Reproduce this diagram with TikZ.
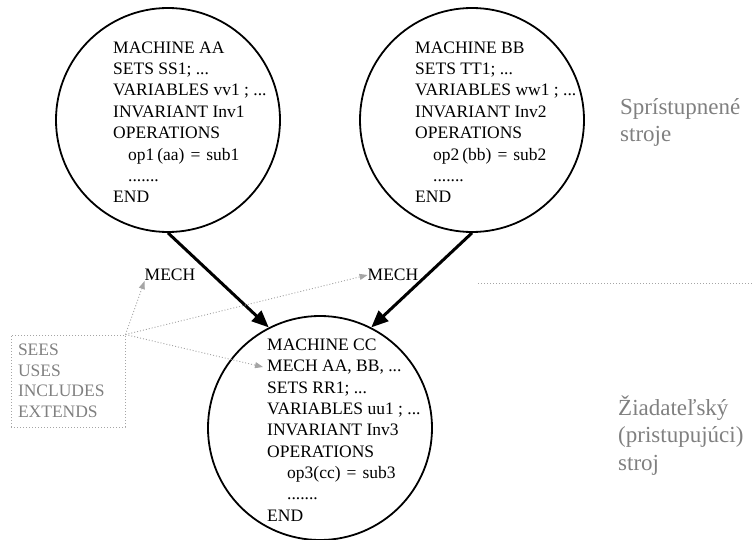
\documentclass[tikz,border=0pt]{standalone}
\usepackage{fontspec}
\setmainfont{Liberation Serif}
\usetikzlibrary{arrows.meta}
\definecolor{txtgray}{RGB}{128,128,128}
\definecolor{dotgray}{RGB}{165,165,165}
\newcommand{\opeq}{\hspace{6pt}=\hspace{6pt}}
\begin{document}
\begin{tikzpicture}[x=1pt,y=-1pt,
  machine/.style={circle, draw, line width=1.8pt, minimum size=224pt, inner sep=0pt},
  code/.style={anchor=base west, inner sep=0pt, align=left, font=\fontsize{17.5}{21.4}\selectfont},
  lbl/.style={inner sep=0pt, font=\fontsize{17.5}{21}\selectfont},
  side/.style={anchor=base west, inner sep=0pt, align=left, text=txtgray, font=\fontsize{23}{27.5}\selectfont},
  mecharrow/.style={line width=3pt, -{Triangle[length=17pt,width=14pt]}},
  dotline/.style={dotgray, line width=0.9pt, dash pattern=on 1pt off 2pt},
  hint/.style={dotline, -{Triangle[length=8pt,width=6pt]}},
  graybox/.style={dotline, draw, text=txtgray, inner sep=0pt, align=left,
    font=\fontsize{17.5}{20.5}\selectfont}
]
\useasboundingbox (0,0) rectangle (754,540);

% machines
\node[machine] (AA) at (168,120) {};
\node[machine] (BB) at (472,120) {};
\node[machine] (CC) at (320,428) {};

% (base anchor = baseline of the last line)
\node[code] (tAA) at (113,202.8) {MACHINE AA\\SETS SS1; ...\\VARIABLES vv1 ; ...\\INVARIANT Inv1\\OPERATIONS\\\hspace*{15pt}op1\,(aa)\opeq sub1\\\hspace*{15pt}.......\\END};
\node[code] (tBB) at (415,202.8) {MACHINE BB\\SETS TT1; ...\\VARIABLES ww1 ; ...\\INVARIANT Inv2\\OPERATIONS\\\hspace*{18pt}op2\,(bb)\opeq sub2\\\hspace*{18pt}.......\\END};
\node[code, font=\fontsize{17.5}{21.3}\selectfont] (tCC) at (267,521) {MACHINE CC\\MECH AA, BB, ...\\SETS RR1; ...\\VARIABLES uu1 ; ...\\INVARIANT Inv3\\OPERATIONS\\\hspace*{20pt}op3(cc)\opeq sub3\\\hspace*{20pt}.......\\END};

% main arrows
\draw[mecharrow] (AA.south) -- (CC.117);
\draw[mecharrow] (BB.south) -- (CC.63);

% MECH labels
\node[lbl] (m1) at (170,275) {MECH};
\node[lbl] (m2) at (393,275) {MECH};

% relation box
\node[graybox, minimum width=114pt, minimum height=92pt, text width=100pt] (box) at (68,381) {SEES\\USES\\INCLUDES\\EXTENDS};
\coordinate (mechline) at (263,367);

\draw[hint] (box.north east) -- (m1.south west);
\draw[hint] (box.north east) -- (m2.west);
\draw[hint] (box.north east) -- (mechline);

% separator
\draw[dotline] (478,283) -- (754,283);

% side labels
\node[side] (acc) at (620,142) {Sprístupnené\\stroje};
\node[side] (req) at (618,470) {Žiadateľský\\(pristupujúci)\\stroj};
\end{tikzpicture}
\end{document}
